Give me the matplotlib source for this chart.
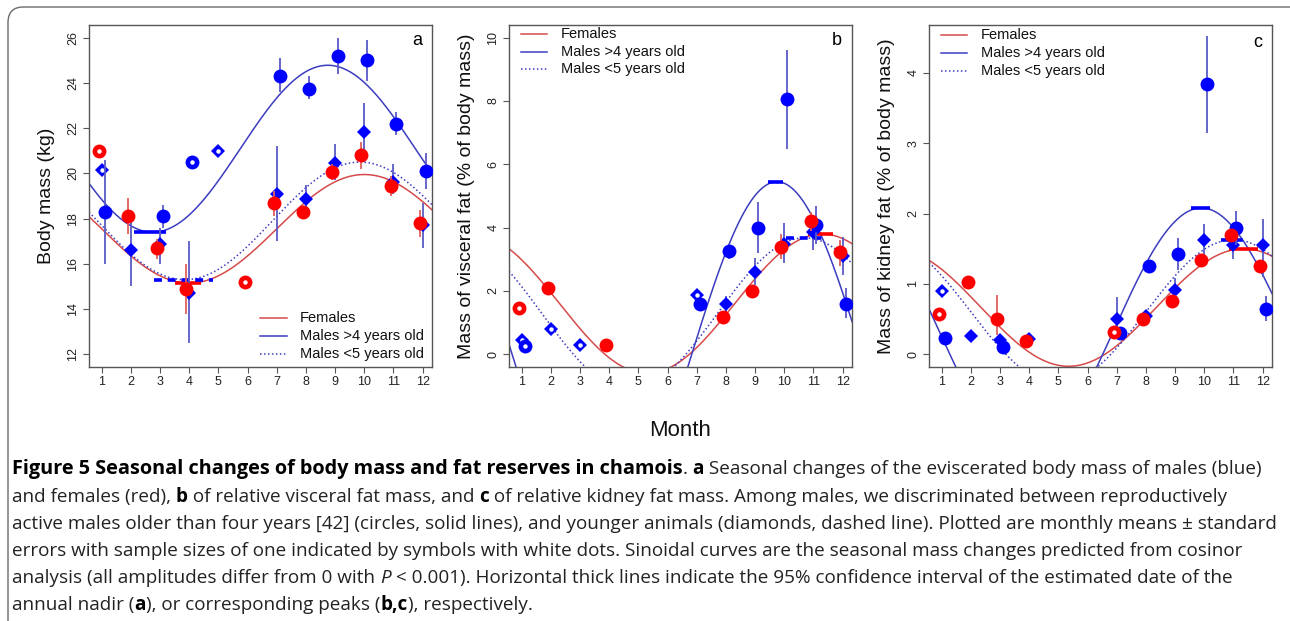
import numpy as np
import matplotlib
matplotlib.use("Agg")
import matplotlib.pyplot as plt
from matplotlib.patches import FancyBboxPatch

nan = np.nan

# ---------------- data ----------------
# Panel a: body mass (kg)
a_fem_month = [1, 2, 3, 4, 6, 7, 8, 9, 10, 11, 12]
a_fem_val = [21.0, 18.1, 16.7, 14.9, 15.2, 18.7, 18.3, 20.05, 20.8, 19.45, 17.8]
a_fem_lo = [nan, 17.3, 16.2, 13.8, nan, 18.1, 18.1, 19.7, 20.2, 19.0, 17.2]
a_fem_hi = [nan, 18.9, 17.1, 16.0, nan, 19.2, 18.5, 20.4, 21.4, 19.9, 18.4]
a_fem_single = [1, 6]

a_old_month = [1, 3, 4, 7, 8, 9, 10, 11, 12]
a_old_val = [18.3, 18.1, 20.5, 24.3, 23.75, 25.2, 25.0, 22.2, 20.1]
a_old_lo = [16.0, 17.6, nan, 23.6, 23.3, 24.4, 24.1, 21.7, 19.3]
a_old_hi = [20.6, 18.6, nan, 25.1, 24.3, 26.0, 25.9, 22.7, 20.9]
a_old_single = [4]

a_yng_month = [1, 2, 3, 4, 5, 7, 8, 9, 10, 11, 12]
a_yng_val = [20.15, 16.6, 16.9, 14.7, 21.0, 19.1, 18.85, 20.45, 21.85, 19.6, 17.7]
a_yng_lo = [nan, 15.0, 16.0, 12.5, nan, 17.0, 18.3, 19.7, 20.5, 19.1, 16.7]
a_yng_hi = [nan, 18.0, 17.6, 17.0, nan, 21.2, 19.5, 21.3, 23.1, 20.4, 18.7]
a_yng_single = [1, 5]

# Panel b: visceral fat (% of body mass)
b_fem_month = [1, 2, 4, 8, 9, 10, 11, 12]
b_fem_val = [1.45, 2.08, 0.28, 1.18, 2.0, 3.4, 4.22, 3.22]
b_fem_lo = [nan, 1.95, 0.2, 1.05, 1.8, 3.0, 3.9, 2.8]
b_fem_hi = [nan, 2.2, 0.35, 1.3, 2.2, 3.8, 4.5, 3.6]
b_fem_single = [1]

b_old_month = [1, 7, 8, 9, 10, 11, 12]
b_old_val = [0.27, 1.6, 3.27, 4.0, 8.05, 4.1, 1.6]
b_old_lo = [nan, 1.5, 3.0, 3.2, 6.5, 3.5, 1.15]
b_old_hi = [nan, 1.7, 3.5, 4.8, 9.6, 4.7, 2.1]
b_old_single = [1]

b_yng_month = [1, 2, 3, 7, 8, 9, 10, 11, 12]
b_yng_val = [0.45, 0.8, 0.3, 1.87, 1.6, 2.6, 3.5, 3.85, 3.1]
b_yng_lo = [nan, nan, nan, nan, 1.35, 2.2, 2.9, 3.3, 2.5]
b_yng_hi = [nan, nan, nan, nan, 1.85, 3.05, 4.15, 4.4, 3.7]
b_yng_single = [1, 2, 3, 7]

# Panel c: kidney fat (% of body mass)
c_fem_month = [1, 2, 3, 4, 7, 8, 9, 10, 11, 12]
c_fem_val = [0.57, 1.03, 0.5, 0.19, 0.32, 0.5, 0.76, 1.34, 1.7, 1.26]
c_fem_lo = [nan, 0.95, 0.28, 0.15, nan, 0.45, 0.7, 1.28, 1.62, 1.2]
c_fem_hi = [nan, 1.1, 0.84, 0.23, nan, 0.55, 0.82, 1.4, 1.78, 1.32]
c_fem_single = [1, 7]

c_old_month = [1, 3, 7, 8, 9, 10, 11, 12]
c_old_val = [0.23, 0.1, 0.3, 1.26, 1.43, 3.84, 1.8, 0.65]
c_old_lo = [0.2, 0.05, 0.25, 1.2, 1.2, 3.15, 1.55, 0.47]
c_old_hi = [0.27, 0.15, 0.35, 1.32, 1.65, 4.53, 2.03, 0.83]
c_old_single = []

c_yng_month = [1, 2, 3, 4, 7, 8, 9, 10, 11, 12]
c_yng_val = [0.9, 0.26, 0.2, 0.22, 0.5, 0.55, 0.92, 1.63, 1.55, 1.55]
c_yng_lo = [nan, 0.22, 0.15, 0.18, 0.3, 0.5, 0.75, 1.4, 1.35, 1.1]
c_yng_hi = [nan, 0.3, 0.25, 0.26, 0.82, 0.6, 1.08, 1.85, 1.75, 1.93]
c_yng_single = [1]

# Cosinor fit parameters: (mesor, amplitude, month of peak)
a_cos = {"fem": (17.55, 2.4, 10.0), "old": (21.09, 3.69, 8.75), "yng": (17.9, 2.6, 9.85)}
b_cos = {"fem": (1.6, 2.2, 11.3), "old": (-0.23, 5.68, 9.75), "yng": (1.28, 2.4, 10.7)}
c_cos = {"fem": (0.665, 0.835, 11.35), "old": (0.344, 1.736, 9.9), "yng": (0.604, 1.026, 11.0)}

# 95% CI of date of nadir (a) / peak (b, c): (start month, end month)
a_ci = {"fem": (3.53, 4.42), "old": (2.12, 3.22), "yng": (2.79, 4.8)}
b_ci = {"fem": (10.8, 11.66), "old": (9.44, 9.95), "yng": (10.06, 11.38)}
c_ci = {"fem": (10.86, 11.83), "old": (9.55, 10.18), "yng": (10.58, 11.43)}

months = list(range(1, 13))
legend_labels = ["Females", "Males >4 years old", "Males <5 years old"]

# ---------------- styling ----------------
W, H = 1290, 621
fig = plt.figure(figsize=(W / 100, H / 100), dpi=100)
PLOT_FONT = ["Liberation Sans", "DejaVu Sans"]
CAP_FONT = ["Open Sans", "DejaVu Sans"]

RED_PT = "#ff0000"
BLUE_PT = "#0000ff"
RED_LN = "#d64a4a"
BLUE_LN = "#3c3cc0"
RED_EB = "#e06060"
BLUE_EB = "#5a5ac8"
FRAME = "#555555"

XLIM = (0.566, 12.32)


def px_axes(left, top, right, bottom):
    return [left / W, 1 - bottom / H, (right - left) / W, (bottom - top) / H]


def draw_group(ax, month, val, lo, hi, single, offset, marker, ms, pcol, ecol, z):
    m = np.asarray(month, float) + offset
    v = np.asarray(val, float)
    lo = np.asarray(lo, float)
    hi = np.asarray(hi, float)
    ok = ~np.isnan(lo)
    ax.vlines(m[ok], lo[ok], hi[ok], color=ecol, lw=1.3, zorder=z)
    ax.plot(m, v, linestyle="none", marker=marker, ms=ms, color=pcol,
            mec=pcol, mew=0, zorder=z + 0.5)
    sel = np.isin(np.asarray(month), single)
    if sel.any():
        ax.plot(m[sel], v[sel], linestyle="none", marker="o", ms=3.2,
                color="white", mew=0, zorder=z + 0.6)


def draw_panel(rect, data, cos_p, ci, nadir, ylim, yticks, ylabel, letter,
               legend_pos, letter_y):
    ax = fig.add_axes(rect)
    ax.set_xlim(*XLIM)
    ax.set_ylim(*ylim)
    xs = np.linspace(XLIM[0], XLIM[1], 400)
    styles = {"fem": (RED_LN, "-"), "old": (BLUE_LN, "-"), "yng": (BLUE_LN, (0, (1, 1.6)))}
    ci_col = {"fem": RED_PT, "old": BLUE_PT, "yng": BLUE_PT}
    ci_ls = {"fem": "-", "old": "-", "yng": (0, (2.2, 1.6))}
    for key in ["fem", "old", "yng"]:
        M, A, pk = cos_p[key]
        col, ls = styles[key]
        ys = M + A * np.cos(2 * np.pi * (xs - pk) / 12.0)
        ax.plot(xs, ys, color=col, lw=1.1, ls=ls, zorder=2)
        lev = M - A if nadir else M + A
        ax.plot(ci[key], [lev, lev], color=ci_col[key], lw=2.6, ls=ci_ls[key],
                solid_capstyle="butt", zorder=3)
    yng, old, fem = data["yng"], data["old"], data["fem"]
    draw_group(ax, *yng, 0.0, "D", 7.0, BLUE_PT, BLUE_EB, 4)
    draw_group(ax, *old, 0.1, "o", 10.0, BLUE_PT, BLUE_EB, 5)
    draw_group(ax, *fem, -0.1, "o", 10.0, RED_PT, RED_EB, 6)

    ax.set_xticks(months)
    ax.set_yticks(yticks)
    ax.tick_params(axis="both", direction="out", length=4, width=0.8,
                   color=FRAME, labelsize=9, labelcolor="#222222")
    ax.tick_params(axis="x", pad=2.5)
    ax.tick_params(axis="y", pad=3)
    for lab in ax.get_yticklabels():
        lab.set_rotation(90)
        lab.set_va("center")
        lab.set_family(PLOT_FONT)
    for lab in ax.get_xticklabels():
        lab.set_family(PLOT_FONT)
    for s in ax.spines.values():
        s.set_color(FRAME)
        s.set_linewidth(1.0)
    ax.set_ylabel(ylabel, fontsize=14, family=PLOT_FONT, color="#111111")
    ax.yaxis.label.set_va("center")
    ax.yaxis.set_label_coords(-0.123, 0.5)
    ax.text(0.957, letter_y, letter, transform=ax.transAxes, ha="center",
            va="center", fontsize=13, family=PLOT_FONT)

    lx0, lx1, tx, ys_leg = legend_pos
    leg_styles = [(RED_LN, "-"), (BLUE_LN, "-"), (BLUE_LN, (0, (1, 1.6)))]
    for (col, ls), lab, yy in zip(leg_styles, legend_labels, ys_leg):
        ax.plot([lx0, lx1], [yy, yy], transform=ax.transAxes, color=col, lw=1.1,
                ls=ls, clip_on=False, zorder=7)
        ax.text(tx, yy, lab, transform=ax.transAxes, ha="left", va="center",
                fontsize=10.5, family=PLOT_FONT, color="#111111")
    return ax


TOP, BOT = 25, 367
panel_a = draw_panel(
    px_axes(89, TOP, 432, BOT),
    {"fem": (a_fem_month, a_fem_val, a_fem_lo, a_fem_hi, a_fem_single),
     "old": (a_old_month, a_old_val, a_old_lo, a_old_hi, a_old_single),
     "yng": (a_yng_month, a_yng_val, a_yng_lo, a_yng_hi, a_yng_single)},
    a_cos, a_ci, True, (11.44, 26.56), list(range(12, 27, 2)),
    "Body mass (kg)", "a", (0.4985, 0.577, 0.615, [0.143, 0.0906, 0.038]), 0.954)

panel_b = draw_panel(
    px_axes(509, TOP, 852, BOT),
    {"fem": (b_fem_month, b_fem_val, b_fem_lo, b_fem_hi, b_fem_single),
     "old": (b_old_month, b_old_val, b_old_lo, b_old_hi, b_old_single),
     "yng": (b_yng_month, b_yng_val, b_yng_lo, b_yng_hi, b_yng_single)},
    b_cos, b_ci, False, (-0.4, 10.4), list(range(0, 11, 2)),
    "Mass of visceral fat (% of body mass)", "b",
    (0.034, 0.112, 0.151, [0.974, 0.922, 0.870]), 0.954)

panel_c = draw_panel(
    px_axes(929, TOP, 1272, BOT),
    {"fem": (c_fem_month, c_fem_val, c_fem_lo, c_fem_hi, c_fem_single),
     "old": (c_old_month, c_old_val, c_old_lo, c_old_hi, c_old_single),
     "yng": (c_yng_month, c_yng_val, c_yng_lo, c_yng_hi, c_yng_single)},
    c_cos, c_ci, False, (-0.18, 4.68), [0, 1, 2, 3, 4],
    "Mass of kidney fat (% of body mass)", "c",
    (0.034, 0.112, 0.151, [0.971, 0.918, 0.866]), 0.948)

fig.text(680 / W, 1 - 430 / H, "Month", ha="center", va="center", fontsize=16,
         family=PLOT_FONT, color="#111111")

# ---------------- caption ----------------
CAP_SIZE = 13.6
TITLE_SIZE = 14.3
caption_lines = [
    [("Figure 5 Seasonal changes of body mass and fat reserves in chamois", "bold", "normal", TITLE_SIZE),
     (". ", "normal", "normal", CAP_SIZE), ("a", "bold", "normal", CAP_SIZE),
     (" Seasonal changes of the eviscerated body mass of males (blue)", "normal", "normal", CAP_SIZE)],
    [("and females (red), ", "normal", "normal", CAP_SIZE), ("b", "bold", "normal", CAP_SIZE),
     (" of relative visceral fat mass, and ", "normal", "normal", CAP_SIZE), ("c", "bold", "normal", CAP_SIZE),
     (" of relative kidney fat mass. Among males, we discriminated between reproductively", "normal", "normal", CAP_SIZE)],
    [("active males older than four years [42] (circles, solid lines), and younger animals (diamonds, dashed line). Plotted are monthly means \u00b1 standard", "normal", "normal", CAP_SIZE)],
    [("errors with sample sizes of one indicated by symbols with white dots. Sinoidal curves are the seasonal mass changes predicted from cosinor", "normal", "normal", CAP_SIZE)],
    [("analysis (all amplitudes differ from 0 with ", "normal", "normal", CAP_SIZE), ("P", "normal", "italic", CAP_SIZE),
     (" < 0.001). Horizontal thick lines indicate the 95% confidence interval of the estimated date of the", "normal", "normal", CAP_SIZE)],
    [("annual nadir (", "normal", "normal", CAP_SIZE), ("a", "bold", "normal", CAP_SIZE),
     ("), or corresponding peaks (", "normal", "normal", CAP_SIZE), ("b,c", "bold", "normal", CAP_SIZE),
     ("), respectively.", "normal", "normal", CAP_SIZE)],
]
line_y = [469, 497, 524, 551, 578, 605]
renderer = fig.canvas.get_renderer()
for runs, yy in zip(caption_lines, line_y):
    x = 12.0
    for txt, wt, st, sz in runs:
        t = fig.text(x / W, 1 - yy / H, txt, ha="left", va="baseline",
                     fontsize=sz, fontweight=wt, style=st, family=CAP_FONT,
                     color="#222222" if wt == "normal" else "#000000")
        t.set_y(1 - (yy + 5) / H)
        bb = t.get_window_extent(renderer)
        x += bb.width

# outer rounded border
border = FancyBboxPatch((8 / W, -0.2), 1.2, 1 - 7 / H + 0.2,
                        boxstyle="round,pad=0,rounding_size=0.012",
                        transform=fig.transFigure, fill=False, ec="#6a6a6a",
                        lw=1.0, clip_on=False, mutation_aspect=W / H)
fig.patches.append(border)

fig.savefig("out.png", dpi=100)
